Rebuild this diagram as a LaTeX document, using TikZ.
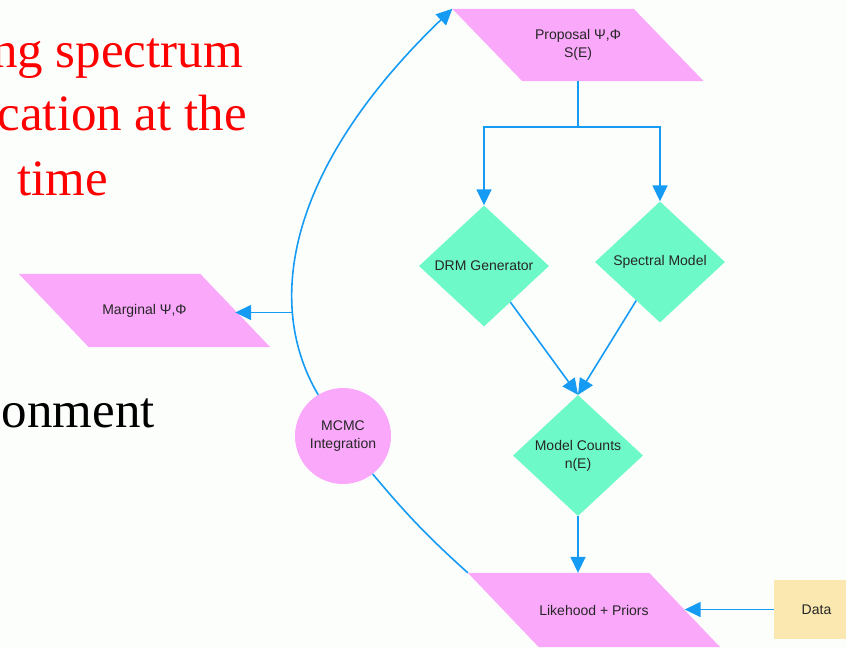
\documentclass[tikz,border=0pt]{standalone}
\usepackage{fontspec}
\setmainfont{Liberation Serif}
\newfontfamily\diagsans{Liberation Sans}
\usetikzlibrary{shapes.geometric,arrows.meta,calc,backgrounds}
\definecolor{bgc}{RGB}{252,254,252}
\definecolor{pinkf}{RGB}{250,168,250}
\definecolor{greenf}{RGB}{110,250,200}
\definecolor{dataf}{RGB}{250,232,176}
\definecolor{linec}{RGB}{22,155,245}
\begin{document}
\begin{tikzpicture}[x=1pt,y=-1pt,
  lbl/.style={font=\diagsans\fontsize{14}{18}\selectfont, text=black!85, align=center},
  parabox/.style={lbl, inner sep=0pt, minimum width=181pt, minimum height=#1},
  dmd/.style={lbl, diamond, fill=greenf, inner sep=0pt, minimum width=130pt, minimum height=121pt},
  conn/.style={draw=linec, line width=1.6pt},
  arr/.style={conn, -{Triangle[length=16pt,width=15pt]}},
  big/.style={font=\fontsize{51}{60}\selectfont, anchor=base east, inner sep=0pt}
]
\useasboundingbox (0,0) rectangle (846,649);
\begin{scope}[on background layer]
  \fill[bgc] (0,0) rectangle (846,649);
\end{scope}

% slide text fragments
\node[big, text=red] (t1) at (243,67) {ng spectrum};
\node[big, text=red] (t2) at (247,130) {cation at the};
\node[big, text=red] (t3) at (108,195) {time};
\node[big] (t4) at (155,427) {onment};

% nodes
\node[parabox=72pt] (prop) at (578,45) {Proposal Ψ,Φ\\S(E)};
\node[parabox=73pt] (marg) at (144.5,310.5) {Marginal Ψ,Φ};
\node[parabox=74pt] (lik) at (594,610) {Likehood + Priors};
\node[dmd] (drm) at (484,266) {DRM Generator};
\node[dmd] (spec) at (660,262) {Spectral Model};
\node[dmd] (mc) at (578,455.5) {Model Counts\\n(E)};
\node[lbl, circle, fill=pinkf, minimum size=96pt, inner sep=0pt] (mcmc) at (343,436) {MCMC\\Integration};
\node[lbl, fill=dataf, minimum width=85pt, minimum height=59pt, inner sep=0pt] (data) at (816.5,609.5) {Data};

% parallelogram bodies
\coordinate (propTL) at ($(prop.north west)+(-35,0)$);
\coordinate (likTL) at ($(lik.north west)+(-35.5,0)$);
\begin{scope}[on background layer]
  \fill[pinkf] (propTL) -- ($(prop.north east)+(-35,0)$) -- ($(prop.south east)+(35,0)$) -- ($(prop.south west)+(35,0)$) -- cycle;
  \fill[pinkf] ($(marg.north west)+(-35,0)$) -- ($(marg.north east)+(-35,0)$) -- ($(marg.south east)+(35,0)$) -- ($(marg.south west)+(35,0)$) -- cycle;
  \fill[pinkf] (likTL) -- ($(lik.north east)+(-35.5,0)$) -- ($(lik.south east)+(35.5,0)$) -- ($(lik.south west)+(35.5,0)$) -- cycle;
\end{scope}

% connectors
\coordinate (split) at ($(prop.south)+(0,46)$);
\draw[conn] (prop.south) -- (split);
\draw[arr] (split) -| (drm.north);
\draw[arr] (split) -| (spec.north);
\draw[arr] (drm) -- (mc.north);
\draw[arr] (spec) -- (mc.north);
\draw[arr] (mc.south) -- (mc.south |- lik.north);
\draw[arr] (data.west) -- (data.west -| lik.east);
\draw[arr] (mcmc.121) .. controls (265,305) and (285,170) .. (propTL) coordinate[pos=0.27] (cm);
\draw[arr] (cm) -- (cm -| marg.east);
\draw[conn] (likTL) to[bend left=4] (mcmc.-52);
\end{tikzpicture}
\end{document}
